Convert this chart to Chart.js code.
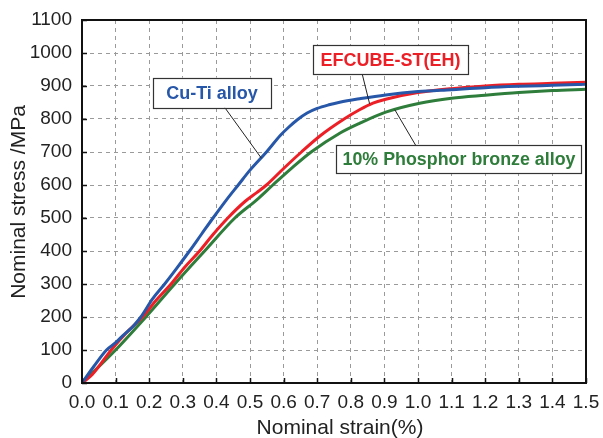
<!DOCTYPE html>
<html>
<head>
<meta charset="utf-8">
<script src="https://cdn.jsdelivr.net/npm/chart.js@4.4.1/dist/chart.umd.min.js"></script>
<style>
  html, body { margin: 0; padding: 0; background: #fff; }
  #wrap { width: 603px; height: 438px; }
</style>
</head>
<body>
<div id="wrap"><canvas id="stressChart" width="603" height="438"></canvas></div>
<script>
// values
const strainCuTi = [0, 0.035, 0.073, 0.10, 0.12, 0.14, 0.155, 0.175, 0.21, 0.246, 0.28, 0.32, 0.355, 0.39, 0.43, 0.465, 0.50, 0.549, 0.59, 0.615, 0.64, 0.67, 0.70, 0.735, 0.767, 0.83, 0.904, 1.0, 1.1, 1.2, 1.3, 1.4, 1.5];
const stressCuTi = [0, 50, 100, 122, 142, 160, 175, 200, 255, 300, 345, 400, 450, 500, 555, 600, 645, 700, 750, 775, 797, 818, 832, 843, 851, 862, 873, 883, 889, 895, 899, 902, 905];

const strainEfcube = [0, 0.03, 0.087, 0.13, 0.18, 0.22, 0.265, 0.305, 0.35, 0.39, 0.434, 0.485, 0.52, 0.549, 0.60, 0.653, 0.71, 0.78, 0.826, 0.866, 0.904, 1.0, 1.1, 1.2, 1.3, 1.4, 1.5];
const stressEfcube = [0, 25, 100, 150, 200, 250, 300, 350, 400, 450, 500, 550, 577, 600, 650, 700, 750, 800, 828, 848, 860, 880, 892, 900, 905, 908, 911];

const strainPhosphor = [0, 0.10, 0.19, 0.276, 0.365, 0.455, 0.52, 0.568, 0.625, 0.682, 0.767, 0.826, 0.904, 1.005, 1.1, 1.2, 1.3, 1.4, 1.5];
const stressPhosphor = [0, 100, 200, 300, 400, 500, 555, 600, 652, 700, 757, 787, 821, 848, 863, 872, 880, 886, 890];

const seriesNames = ['Cu-Ti alloy', 'EFCUBE-ST(EH)', '10% Phosphor bronze alloy'];
const xTickValues = [0, 0.1, 0.2, 0.3, 0.4, 0.5, 0.6, 0.7, 0.8, 0.9, 1.0, 1.1, 1.2, 1.3, 1.4, 1.5];
const yTickValues = [0, 100, 200, 300, 400, 500, 600, 700, 800, 900, 1000, 1100];

const BLUE = '#2757a8';
const RED = '#ec1f26';
const GREEN = '#2f7d3b';

function toPoints(xs, ys) {
  return xs.map((x, i) => ({ x: x, y: ys[i] }));
}

// callout boxes: centre and leader end given in data units
const callouts = [
  { text: seriesNames[0], color: BLUE, cx: 0.387, cy: 880, w: 118, h: 30, lx: 0.425, ly: 'bottom', ex: 0.534, ey: 681 },
  { text: seriesNames[1], color: RED, cx: 0.918, cy: 980, w: 155, h: 29, lx: 0.834, ly: 'bottom', ex: 0.856, ey: 846 },
  { text: seriesNames[2], color: GREEN, cx: 1.122, cy: 678, w: 245, h: 28, lx: 0.993, ly: 'top', ex: 0.931, ey: 828 }
];

const framePlugin = {
  id: 'frame',
  afterDraw(chart) {
    const ctx = chart.ctx;
    const a = chart.chartArea;
    const xs = chart.scales.x, ys = chart.scales.y;
    ctx.save();

    // inward ticks
    ctx.strokeStyle = '#111';
    ctx.lineWidth = 1.5;
    ctx.beginPath();
    xTickValues.forEach(v => {
      const px = Math.round(xs.getPixelForValue(v)) + 0.5;
      ctx.moveTo(px, a.bottom); ctx.lineTo(px, a.bottom - 5);
    });
    yTickValues.forEach(v => {
      const py = Math.round(ys.getPixelForValue(v)) + 0.5;
      ctx.moveTo(a.left, py); ctx.lineTo(a.left + 5, py);
    });
    ctx.stroke();

    // frame
    ctx.lineWidth = 2;
    ctx.strokeRect(a.left, a.top, a.right - a.left, a.bottom - a.top);

    // callouts
    callouts.forEach(c => {
      const cx = xs.getPixelForValue(c.cx), cy = ys.getPixelForValue(c.cy);
      const left = cx - c.w / 2, top = cy - c.h / 2;
      const sx = xs.getPixelForValue(c.lx);
      const sy = c.ly === 'bottom' ? top + c.h : top;
      ctx.strokeStyle = '#222';
      ctx.lineWidth = 1;
      ctx.beginPath();
      ctx.moveTo(sx, sy);
      ctx.lineTo(xs.getPixelForValue(c.ex), ys.getPixelForValue(c.ey));
      ctx.stroke();
      ctx.fillStyle = '#fff';
      ctx.fillRect(left, top, c.w, c.h);
      ctx.strokeStyle = '#333';
      ctx.lineWidth = 1.2;
      ctx.strokeRect(Math.round(left) + 0.5, Math.round(top) + 0.5, Math.round(c.w), Math.round(c.h));
      ctx.fillStyle = c.color;
      ctx.font = 'bold 18px "Liberation Sans", Arial, sans-serif';
      ctx.textAlign = 'center';
      ctx.textBaseline = 'middle';
      ctx.fillText(c.text, cx, cy + 1, c.w - 12);
    });

    // axis titles
    ctx.fillStyle = '#222';
    ctx.font = '21px "Liberation Sans", Arial, sans-serif';
    ctx.textAlign = 'center';
    ctx.textBaseline = 'middle';
    ctx.fillText('Nominal strain(%)', 340, 428);
    ctx.translate(19, 202);
    ctx.rotate(-Math.PI / 2);
    ctx.fillText('Nominal stress /MPa', 0, 0);
    ctx.restore();
  }
};

const lineStyle = {
  pointRadius: 0,
  borderWidth: 3,
  fill: false,
  cubicInterpolationMode: 'monotone'
};

const ctx = document.getElementById('stressChart').getContext('2d');
const stressChart = new Chart(ctx, {
  type: 'line',
  data: {
    datasets: [
      Object.assign({ label: seriesNames[0], data: toPoints(strainCuTi, stressCuTi), borderColor: BLUE, order: 1 }, lineStyle),
      Object.assign({ label: seriesNames[1], data: toPoints(strainEfcube, stressEfcube), borderColor: RED, order: 2 }, lineStyle),
      Object.assign({ label: seriesNames[2], data: toPoints(strainPhosphor, stressPhosphor), borderColor: GREEN, order: 3 }, lineStyle)
    ]
  },
  options: {
    responsive: false,
    animation: false,
    layout: { padding: { top: 20, right: 17, left: 0, bottom: 0 } },
    plugins: {
      legend: { display: false },
      tooltip: { enabled: false }
    },
    scales: {
      x: {
        type: 'linear',
        min: 0,
        max: 1.5,
        afterBuildTicks: s => { s.ticks = xTickValues.map(v => ({ value: v })); },
        afterFit: s => { s.height = 55; s.paddingLeft = 0; s.paddingRight = 0; },
        ticks: {
          autoSkip: false,
          maxRotation: 0,
          padding: 8,
          color: '#222',
          font: { family: '"Liberation Sans", Arial, sans-serif', size: 19 },
          callback: v => Number(v).toFixed(1)
        },
        grid: { color: '#9a9a9a', lineWidth: 1, drawTicks: false },
        border: { display: false, dash: [4, 4] }
      },
      y: {
        min: 0,
        max: 1100,
        afterBuildTicks: s => { s.ticks = yTickValues.map(v => ({ value: v })); },
        afterFit: s => { s.width = 82; s.paddingTop = 0; s.paddingBottom = 0; },
        ticks: {
          padding: 10,
          color: '#222',
          font: { family: '"Liberation Sans", Arial, sans-serif', size: 19 },
          callback: v => String(v)
        },
        grid: { color: '#9a9a9a', lineWidth: 1, drawTicks: false },
        border: { display: false, dash: [4, 4] }
      }
    }
  },
  plugins: [framePlugin]
});
</script>
</body>
</html>
